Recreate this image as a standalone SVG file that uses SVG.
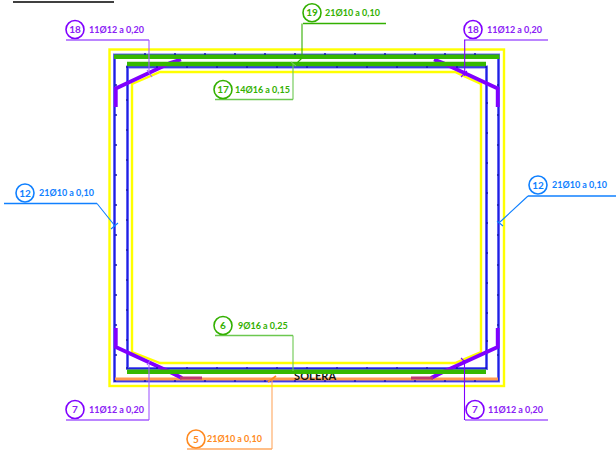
<svg xmlns="http://www.w3.org/2000/svg" width="616" height="453" viewBox="0 0 616 453">
<style>
text{font-family:"Lato","Open Sans","Liberation Sans",sans-serif;font-weight:700;font-size:9px}
.n{text-anchor:middle;font-size:10px}
.c{fill:#fff;stroke-width:1.6}
.l{fill:none;stroke-width:1.1}
.h{fill:none;stroke-width:1.6}
.purple{stroke:#8000ff}.purpleL{stroke:#a45cff}.green{stroke:#33b000}.greenL{stroke:#6cc850}.blue{stroke:#1080ff}.orange{stroke:#ff8a20}.orangeL{stroke:#ffa860}
.tp{fill:#8a20f5}.tg{fill:#33b000}.tb{fill:#1080ff}.to{fill:#ff8a20}
.bar{fill:none;stroke:#6a6af5;stroke-width:3}
.barc{fill:none;stroke:#2020e0;stroke-width:1.2}
.y{fill:none;stroke:#ffff00;stroke-width:2.4}
.g{stroke:#36b800;stroke-width:4.4}
.p{fill:none;stroke:#8000ff;stroke-width:3.8;stroke-linejoin:miter}
.d{fill:#1818b0}
</style>
<defs><circle id="dot" r="1" class="d"/></defs>
<g id="section">
<line x1="13" y1="2" x2="114" y2="2" stroke="#000" stroke-width="1.6"/>
<rect x="109.500" y="49.500" width="394.500" height="336.500" class="y"/>
<path class="y" d="M132 84L160 72H455L481 84V352L455 363H160L132 352Z"/>
<rect x="114.500" y="55" width="384" height="326" class="bar"/>
<rect x="114.500" y="55" width="384" height="326" class="barc"/>
<rect x="127.500" y="67" width="359" height="301.500" class="bar"/>
<rect x="127.500" y="67" width="359" height="301.500" class="barc"/>
<line x1="115" y1="379" x2="498" y2="379" stroke="#ff9a50" stroke-width="3.200"/>
<text x="294" y="380" fill="#111" style="font-size:11px;letter-spacing:.1px">SOLERA</text>
<path class="p" d="M115.800 107V88.500L170 63L181 59.500"/>
<path class="p" d="M497.700 107V88.500L443 63L434 59.500"/>
<path class="p" d="M115.800 328V347L170 372L182 378"/>
<path class="p" d="M497.700 328V347L443 372L431 378"/>
<path fill="none" stroke="#33b000" stroke-width="1" d="M181 58.500H202M434 58.500H411"/>
<path fill="none" stroke="#c03a70" stroke-width="2.800" d="M180 378H202M433 378H411"/>
<line x1="114" y1="56.700" x2="499.500" y2="56.700" class="g"/>
<line x1="127" y1="64" x2="486" y2="64" class="g"/>
<line x1="127" y1="371.700" x2="486" y2="371.700" class="g"/>
<g id="dots">
<use href="#dot" x="145" y="54"/><use href="#dot" x="175" y="54"/><use href="#dot" x="205" y="54"/><use href="#dot" x="235" y="54"/><use href="#dot" x="265" y="54"/><use href="#dot" x="295" y="54"/><use href="#dot" x="325" y="54"/><use href="#dot" x="355" y="54"/><use href="#dot" x="385" y="54"/><use href="#dot" x="415" y="54"/><use href="#dot" x="445" y="54"/><use href="#dot" x="475" y="54"/>
<use href="#dot" x="127" y="67"/><use href="#dot" x="157" y="67"/><use href="#dot" x="187" y="67"/><use href="#dot" x="217" y="67"/><use href="#dot" x="247" y="67"/><use href="#dot" x="277" y="67"/><use href="#dot" x="307" y="67"/><use href="#dot" x="337" y="67"/><use href="#dot" x="367" y="67"/><use href="#dot" x="397" y="67"/><use href="#dot" x="427" y="67"/><use href="#dot" x="457" y="67"/><use href="#dot" x="486" y="67"/>
<use href="#dot" x="127" y="368"/><use href="#dot" x="157" y="368"/><use href="#dot" x="187" y="368"/><use href="#dot" x="217" y="368"/><use href="#dot" x="247" y="368"/><use href="#dot" x="277" y="368"/><use href="#dot" x="307" y="368"/><use href="#dot" x="337" y="368"/><use href="#dot" x="367" y="368"/><use href="#dot" x="397" y="368"/><use href="#dot" x="427" y="368"/><use href="#dot" x="457" y="368"/><use href="#dot" x="486" y="368"/>
<use href="#dot" x="115" y="381"/><use href="#dot" x="145" y="381"/><use href="#dot" x="175" y="381"/><use href="#dot" x="205" y="381"/><use href="#dot" x="235" y="381"/><use href="#dot" x="265" y="381"/><use href="#dot" x="295" y="381"/><use href="#dot" x="325" y="381"/><use href="#dot" x="355" y="381"/><use href="#dot" x="385" y="381"/><use href="#dot" x="415" y="381"/><use href="#dot" x="445" y="381"/><use href="#dot" x="475" y="381"/>
<use href="#dot" x="116" y="85"/><use href="#dot" x="116" y="115"/><use href="#dot" x="116" y="145"/><use href="#dot" x="116" y="175"/><use href="#dot" x="116" y="205"/><use href="#dot" x="116" y="235"/><use href="#dot" x="116" y="265"/><use href="#dot" x="116" y="295"/><use href="#dot" x="116" y="325"/><use href="#dot" x="116" y="355"/>
<use href="#dot" x="498" y="85"/><use href="#dot" x="498" y="115"/><use href="#dot" x="498" y="145"/><use href="#dot" x="498" y="175"/><use href="#dot" x="498" y="205"/><use href="#dot" x="498" y="235"/><use href="#dot" x="498" y="265"/><use href="#dot" x="498" y="295"/><use href="#dot" x="498" y="325"/><use href="#dot" x="498" y="355"/>
<use href="#dot" x="127" y="100"/><use href="#dot" x="127" y="130"/><use href="#dot" x="127" y="160"/><use href="#dot" x="127" y="190"/><use href="#dot" x="127" y="220"/><use href="#dot" x="127" y="250"/><use href="#dot" x="127" y="280"/><use href="#dot" x="127" y="310"/><use href="#dot" x="127" y="340"/>
<use href="#dot" x="487" y="103"/><use href="#dot" x="487" y="133"/><use href="#dot" x="487" y="163"/><use href="#dot" x="487" y="193"/><use href="#dot" x="487" y="223"/><use href="#dot" x="487" y="253"/><use href="#dot" x="487" y="283"/><use href="#dot" x="487" y="313"/><use href="#dot" x="487" y="341"/>
</g>
</g>
<g id="connectors">
<path class="h purpleL" d="M66 40H149"/><path class="l purpleL" d="M149 40V72M147 70L152 77"/>
<path class="h purpleL" d="M464 40H548"/><path class="l purple" d="M464.700 40V76M461 77L467 71"/>
<path class="h green" d="M303 23.500H386"/><path class="l green" d="M302 23.500V56M302 58L297 63"/>
<path class="h greenL" d="M215 99.500H293"/><path class="l greenL" d="M293 99.500V64M291 62L296 66"/>
<path class="h blue" d="M4 203.500H97"/><path class="l blue" d="M97 203.500L115 226M111 229L118 223"/>
<path class="h blue" d="M528 196H616"/><path class="l blue" d="M528 196L500 222M497 221L503 226"/>
<path class="h greenL" d="M215 335.500H293"/><path class="l greenL" d="M293 335.500V371"/>
<path class="h purpleL" d="M66 420H149"/><path class="l purpleL" d="M149 420V365M150 361L147 365"/>
<path class="h orangeL" d="M187 449H272"/><path class="l orangeL" d="M272 449V379"/><path fill="none" stroke="#ff8a20" stroke-width="1.600" d="M268 382L276 376"/>
<path class="h purpleL" d="M465 420H548"/><path class="l purple" d="M464.500 420V360M461 358L466 363"/>
</g>
<g id="n18l"><circle cx="75" cy="29.500" r="9" class="c purple"/><text x="75" y="33" class="n tp">18</text><text x="89" y="32.700" class="tp">11Ø12 a 0,20</text></g>
<g id="n18r"><circle cx="473" cy="29.500" r="9" class="c purple"/><text x="473" y="33" class="n tp">18</text><text x="487" y="32.700" class="tp">11Ø12 a 0,20</text></g>
<g id="n19"><circle cx="312" cy="12.700" r="9" class="c green"/><text x="312" y="16.200" class="n tg">19</text><text x="325" y="16" class="tg">21Ø10 a 0,10</text></g>
<g id="n17"><circle cx="223" cy="89.500" r="9" class="c green"/><text x="223" y="93" class="n tg">17</text><text x="235" y="92.700" class="tg">14Ø16 a 0,15</text></g>
<g id="n12l"><circle cx="25" cy="193" r="9" class="c blue"/><text x="25" y="196.500" class="n tb">12</text><text x="39" y="196.200" class="tb">21Ø10 a 0,10</text></g>
<g id="n12r"><circle cx="538" cy="185" r="9" class="c blue"/><text x="538" y="188.500" class="n tb">12</text><text x="552" y="188.200" class="tb">21Ø10 a 0,10</text></g>
<g id="n6"><circle cx="223" cy="325.500" r="9" class="c green"/><text x="223" y="329" class="n tg">6</text><text x="238" y="328.700" class="tg">9Ø16 a 0,25</text></g>
<g id="n7l"><circle cx="75" cy="409.500" r="9" class="c purple"/><text x="75" y="413" class="n tp">7</text><text x="89" y="412.700" class="tp">11Ø12 a 0,20</text></g>
<g id="n5"><circle cx="196" cy="439" r="9" class="c orange"/><text x="196" y="442.500" class="n to">5</text><text x="207" y="442.200" class="to">21Ø10 a 0,10</text></g>
<g id="n7r"><circle cx="475" cy="409.500" r="9" class="c purple"/><text x="475" y="413" class="n tp">7</text><text x="488" y="412.700" class="tp">11Ø12 a 0,20</text></g>
</svg>
